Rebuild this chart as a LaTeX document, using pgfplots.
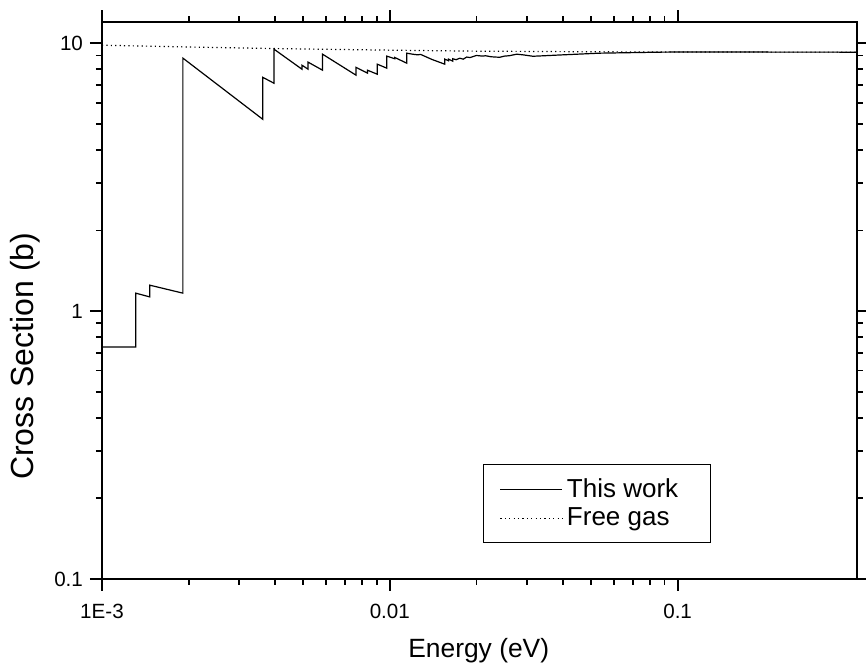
\documentclass[border=0pt]{standalone}
\usepackage{fontspec}
\setmainfont{Liberation Sans}
\usepackage{pgfplots}
\pgfplotsset{compat=1.18}
\begin{document}
\begin{tikzpicture}
\useasboundingbox (-51pt,-46pt) rectangle (382pt,289.5pt);
\begin{axis}[
  at={(0pt,0pt)}, anchor=south west,
  scale only axis, width=377.5pt, height=278.5pt,
  xmode=log, ymode=log,
  xmin=0.001, xmax=0.42, ymin=0.1, ymax=12,
  xtick={0.001,0.01,0.1}, xticklabels={1E-3,0.01,0.1},
  ytick={0.1,1,10}, yticklabels={0.1,1,10},
  tick align=outside,
  major tick length=6pt, minor tick length=3pt,
  every tick/.style={black, line width=0.9pt},
  axis line style={line width=1pt},
  ticklabel style={font=\fontsize{10.3}{12}\selectfont},
  xticklabel style={yshift=-3pt},
  xlabel={Energy (eV)}, ylabel={Cross Section (b)},
  xlabel style={font=\fontsize{13.2}{15}\selectfont, at={(axis description cs:0.499,-0.1293)}, anchor=center},
  ylabel style={font=\fontsize{16}{18}\selectfont, at={(axis description cs:-0.102,0.40)}, anchor=center, rotate=0},
  legend style={at={(axis description cs:0.505,0.207)}, anchor=north west, draw=black, line width=0.5pt,
     font=\fontsize{13}{15.5}\selectfont, row sep=0pt, inner xsep=4pt, inner ysep=5pt},
  legend cell align=left,
  legend image code/.code={\path (0pt,0pt); \draw[#1] (4pt,0pt) -- (35pt,0pt);},
]
\addplot[black, line width=0.6pt] coordinates {
(0.001,0.735) (0.00131,0.735) (0.00131,1.167) (0.001465,1.13) (0.001465,1.25) (0.00191,1.167)
(0.00191,8.8) (0.00362,5.2) (0.00362,7.46) (0.00396,7.09) (0.00396,9.5)
(0.00495,8.0) (0.00495,8.28) (0.0052,8.0) (0.0052,8.5) (0.00584,7.93) (0.00584,9.1)
(0.00763,7.6) (0.00763,8.13) (0.00837,7.73) (0.00837,7.93) (0.00905,7.66) (0.00905,8.35)
(0.00976,8.07) (0.00976,8.95) (0.0104,8.75) (0.0104,8.85) (0.01146,8.42) (0.01146,9.18)
(0.0120,9.1) (0.0125,9.05) (0.0128,9.08) (0.0140,8.7) (0.01553,8.35) (0.01553,8.72)
(0.0160,8.6) (0.0160,8.72) (0.01655,8.57) (0.01655,8.75) (0.0170,8.68) (0.0175,8.79)
(0.0180,8.72) (0.0185,8.88) (0.0190,8.84) (0.0200,9.0) (0.0210,8.95) (0.0215,8.98)
(0.0225,8.9) (0.0241,8.86) (0.0250,8.95) (0.0260,8.98) (0.0276,9.1) (0.0290,9.05)
(0.0314,8.94) (0.0330,8.96) (0.0400,9.05) (0.0536,9.18) (0.0866,9.26) (0.1,9.27) (0.42,9.26)
};
\addlegendentry{This work\hspace*{10pt}}
\addplot[black, line width=0.6pt, dash pattern=on 0.6pt off 1.6pt] coordinates {
(0.001,9.83) (0.002,9.68) (0.004,9.55) (0.01,9.42) (0.02,9.34) (0.05,9.29) (0.1,9.27) (0.42,9.26)
};
\addlegendentry{Free gas}
\end{axis}
\end{tikzpicture}
\end{document}
